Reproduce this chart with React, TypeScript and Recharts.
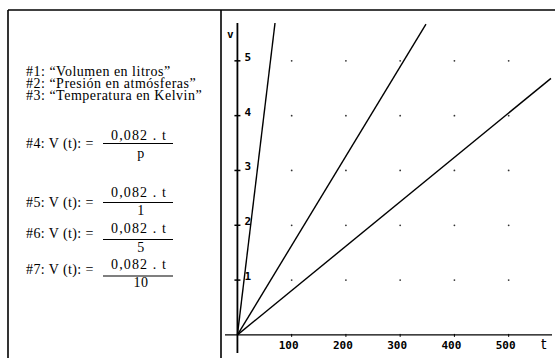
import React from "react";
import {
  LineChart,
  Line,
  XAxis,
  YAxis,
  Scatter,
  ReferenceLine,
} from "recharts";

// Axis ticks (t in Kelvin, v in litres)
const T_TICKS = [100, 200, 300, 400, 500];
const V_TICKS = [1, 2, 3, 4, 5];

// Straight lines V(t) = 0,082 t / p (start and end points)
const LINE_P1 = [
  { t: 0, v: 0 },
  { t: 69.3, v: 5.69 },
];
const LINE_P5 = [
  { t: 0, v: 0 },
  { t: 347.6, v: 5.67 },
];
const LINE_P10 = [
  { t: 0, v: 0 },
  { t: 578, v: 4.68 },
];

const LABELS = [
  "#1: \u201cVolumen en litros\u201d",
  "#2: \u201cPresi\u00f3n en atm\u00f3sferas\u201d",
  "#3: \u201cTemperatura en Kelvin\u201d",
];
const FORMULAS = [
  { id: "#4", num: "0,082 . t", den: "p" },
  { id: "#5", num: "0,082 . t", den: "1" },
  { id: "#6", num: "0,082 . t", den: "5" },
  { id: "#7", num: "0,082 . t", den: "10" },
];

const W = 555;
const H = 358;
const INK = "#000";
const PIX_FONT = "'DejaVu Sans Mono', monospace";

// grid dots at every tick crossing
const gridDots = T_TICKS.flatMap((t) => V_TICKS.map((v) => ({ t, v })));
const xTickPts = T_TICKS.map((t) => ({ t, v: 0 }));
const yTickPts = V_TICKS.map((v) => ({ t: 0, v }));

function Dot(props: any) {
  const { cx, cy } = props;
  return <circle cx={cx} cy={cy} r={0.9} fill="#333" />;
}

function XTick(props: any) {
  const { cx, cy, payload } = props;
  return (
    <g>
      <line x1={cx} x2={cx} y1={cy - 1} y2={cy + 2} stroke={INK} strokeWidth={1} />
      <text
        x={cx - 3}
        y={cy + 14}
        textAnchor="middle"
        fontFamily={PIX_FONT}
        fontWeight="bold"
        fontSize={11}
        fill={INK}
      >
        {payload.t}
      </text>
    </g>
  );
}

function YTick(props: any) {
  const { cx, cy, payload } = props;
  return (
    <g>
      <line x1={cx - 3} x2={cx + 3} y1={cy} y2={cy} stroke={INK} strokeWidth={1.5} />
      <text
        x={cx + 7}
        y={cy}
        fontFamily={PIX_FONT}
        fontWeight="bold"
        fontSize={11}
        fill={INK}
      >
        {payload.v}
      </text>
    </g>
  );
}

// vertical placement of each formula row: label baseline, numerator, bar, denominator
const ROWS = [
  { label: 148, num: 140, bar: 143.5, den: 158 },
  { label: 207, num: 197, bar: 202.5, den: 215 },
  { label: 238, num: 233, bar: 239.5, den: 251.5 },
  { label: 274, num: 269, bar: 276, den: 287 },
];

function LeftPanel() {
  const font = "'Liberation Serif', 'Times New Roman', serif";
  return (
    <svg
      width={W}
      height={H}
      style={{ position: "absolute", left: 0, top: 0, pointerEvents: "none" }}
    >
      <line x1={8} x2={W} y1={10} y2={10} stroke={INK} strokeWidth={1.6} />
      <line x1={8} x2={8} y1={10} y2={H} stroke={INK} strokeWidth={1.6} />
      <line x1={221} x2={221} y1={10} y2={H} stroke={INK} strokeWidth={1.6} />
      {LABELS.map((s, i) => (
        <text
          key={s}
          x={26}
          y={76 + i * 12}
          fontFamily={font}
          fontSize={14}
          letterSpacing={0.5}
          fill={INK}
        >
          {s}
        </text>
      ))}
      {FORMULAS.map((f, i) => {
        const r = ROWS[i];
        return (
          <g key={f.id} fontFamily={font} fontSize={14} fill={INK}>
            <text x={26} y={r.label} letterSpacing={0.4}>
              {f.id}: V (t): =
            </text>
            <text x={139} y={r.num} textAnchor="middle" letterSpacing={1.1}>
              {f.num}
            </text>
            <line x1={103} x2={173} y1={r.bar} y2={r.bar} stroke={INK} strokeWidth={1.2} />
            <text x={141} y={r.den} textAnchor="middle" letterSpacing={0.5}>
              {f.den}
            </text>
          </g>
        );
      })}
    </svg>
  );
}

export default function App() {
  return (
    <div
      style={{
        position: "absolute",
        left: 0,
        top: 0,
        width: W,
        height: H,
        background: "#fff",
      }}
    >
      <LineChart
        width={W}
        height={H}
        margin={{ top: 23, right: 3, bottom: 5, left: 225 }}
      >
        <XAxis
          type="number"
          dataKey="t"
          domain={[-22.9, 579.9]}
          allowDataOverflow
          hide
        />
        <YAxis
          type="number"
          dataKey="v"
          domain={[-0.33, 5.69]}
          allowDataOverflow
          hide
        />
        <ReferenceLine y={0} stroke={INK} strokeWidth={1.3} />
        <ReferenceLine x={0} stroke={INK} strokeWidth={1.8} />
        <Scatter data={gridDots} dataKey="v" shape={<Dot />} isAnimationActive={false} />
        <Scatter data={xTickPts} dataKey="v" shape={<XTick />} isAnimationActive={false} />
        <Scatter data={yTickPts} dataKey="v" shape={<YTick />} isAnimationActive={false} />
        <Line data={LINE_P1} dataKey="v" type="linear" stroke={INK} strokeWidth={1.4} dot={false} isAnimationActive={false} />
        <Line data={LINE_P5} dataKey="v" type="linear" stroke={INK} strokeWidth={1.4} dot={false} isAnimationActive={false} />
        <Line data={LINE_P10} dataKey="v" type="linear" stroke={INK} strokeWidth={1.4} dot={false} isAnimationActive={false} />
      </LineChart>
      <svg
        width={W}
        height={H}
        style={{ position: "absolute", left: 0, top: 0, pointerEvents: "none" }}
      >
        <text x={227} y={38} fontFamily={PIX_FONT} fontWeight="bold" fontSize={11} fill={INK}>v</text>
        <text x={541} y={349} fontFamily="'DejaVu Sans', sans-serif" fontSize={14} fill={INK}>t</text>
      </svg>
      <LeftPanel />
    </div>
  );
}
